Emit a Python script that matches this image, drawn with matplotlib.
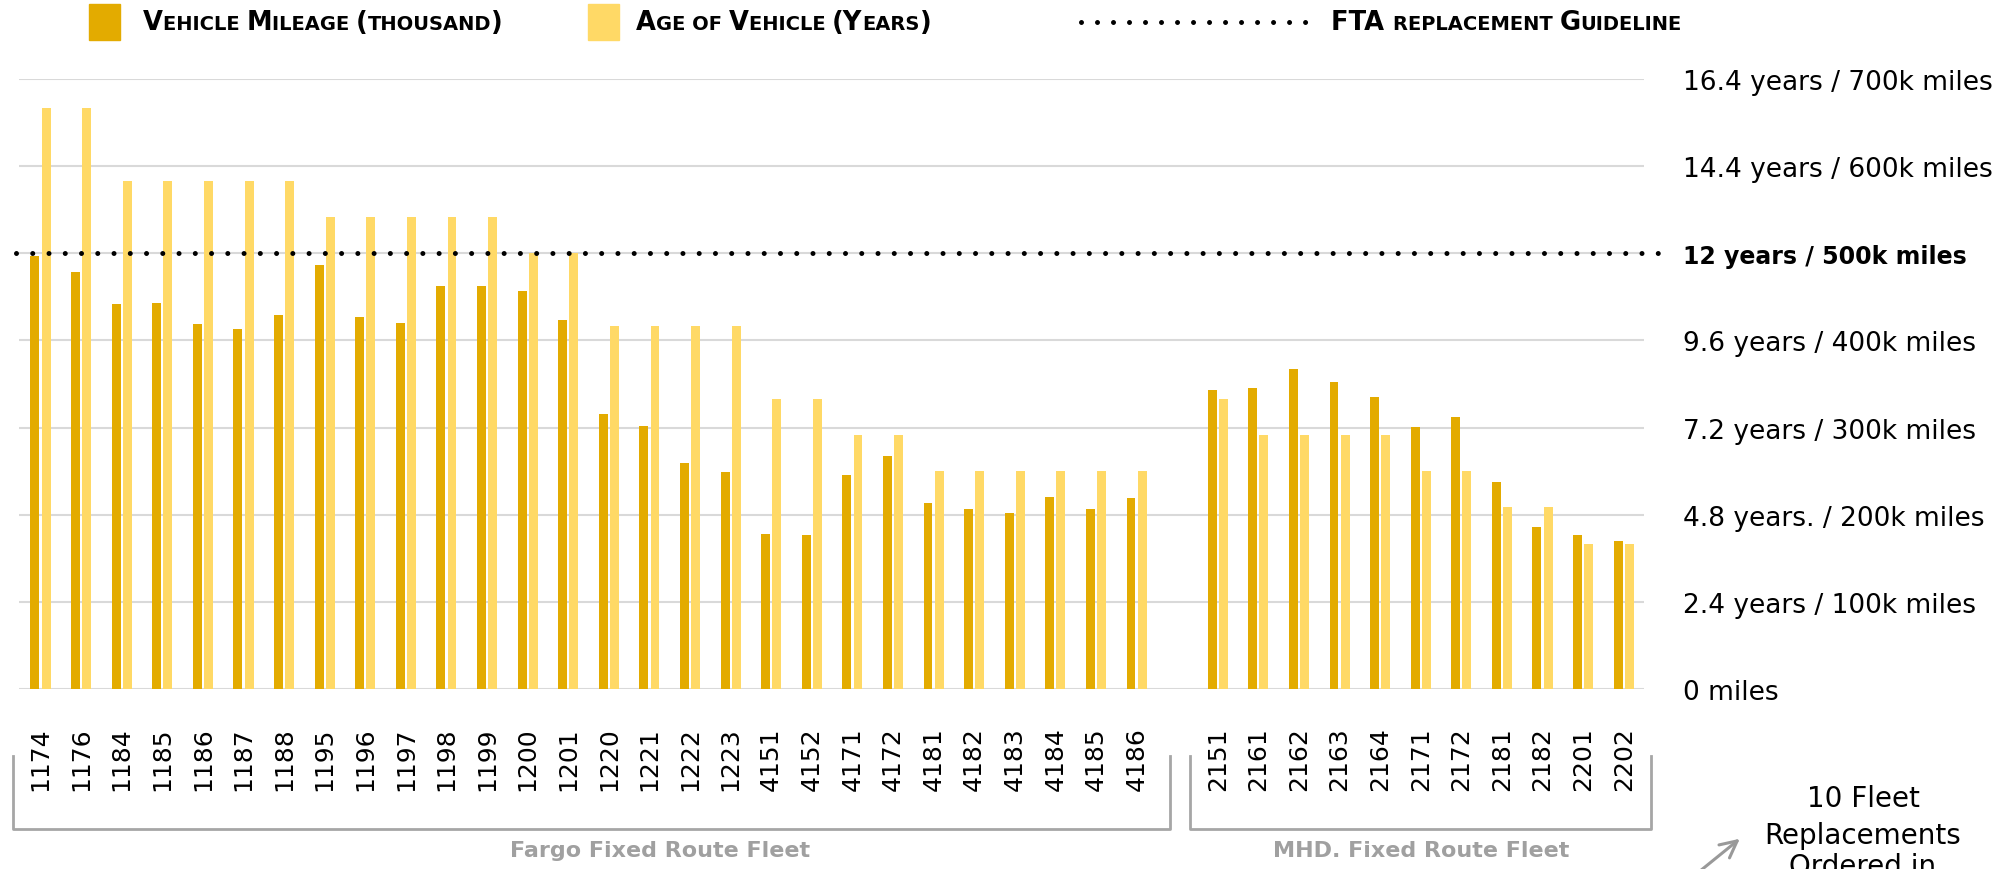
import matplotlib
matplotlib.use("Agg")
import matplotlib.pyplot as plt
from matplotlib.lines import Line2D
from matplotlib.patches import Rectangle
from matplotlib.offsetbox import TextArea, HPacker, AnnotationBbox

# Fahrzeugdaten (Meilen in Tausend, Alter in Jahren)
fargo_units   = ["1174", "1176", "1184", "1185", "1186", "1187", "1188", "1195", "1196", "1197",
                 "1198", "1199", "1200", "1201", "1220", "1221", "1222", "1223", "4151", "4152",
                 "4171", "4172", "4181", "4182", "4183", "4184", "4185", "4186"]
fargo_mileage = [497, 478, 442, 443, 419, 413, 429, 487, 427, 420,
                 463, 463, 457, 424, 316, 302, 259, 249, 178, 177,
                 246, 267, 213, 206, 202, 220, 206, 219]
fargo_age     = [16, 16, 14, 14, 14, 14, 14, 13, 13, 13,
                 13, 13, 12, 12, 10, 10, 10, 10, 8, 8,
                 7, 7, 6, 6, 6, 6, 6, 6]

mhd_units   = ["2151", "2161", "2162", "2163", "2164", "2171", "2172", "2181", "2182", "2201", "2202"]
mhd_mileage = [343, 345, 367, 352, 335, 301, 312, 238, 186, 177, 170]
mhd_age     = [8, 7, 7, 7, 7, 6, 6, 5, 5, 4, 4]

axis_values = [0, 100, 200, 300, 400, 500, 600, 700]
axis_labels = ["0 miles", "2.4 years / 100k miles", "4.8 years. / 200k miles",
               "7.2 years / 300k miles", "9.6 years / 400k miles", "12 years / 500k miles",
               "14.4 years / 600k miles", "16.4 years / 700k miles"]

GUIDE_MILES = 500
GUIDE_YEARS = 12
K_PER_YEAR  = GUIDE_MILES / GUIDE_YEARS   # Alter auf Meilenskala umrechnen

DARK  = "#E3AB00"
LIGHT = "#FFD966"
GREY  = "#A6A6A6"

W, H = 1994, 870
FONT = ["DejaVu Sans"]

fig = plt.figure(figsize=(W / 100, H / 100), dpi=100)


def fx(px):
    return px / W


def fy(py):
    return 1 - py / H


ax = fig.add_axes([fx(19), fy(690), fx(1644) - fx(19), fy(80) - fy(690)])

# Positionen: Lücke zwischen den beiden Flotten
pos_fargo = list(range(len(fargo_units)))
pos_mhd   = [len(fargo_units) + 1 + i for i in range(len(mhd_units))]
positions = pos_fargo + pos_mhd
units     = fargo_units + mhd_units
mileage   = fargo_mileage + mhd_mileage
age_k     = [a * K_PER_YEAR for a in fargo_age + mhd_age]

bw, off = 0.22, 0.137
ax.bar([p - off for p in positions], mileage, width=bw, color=DARK, linewidth=0)
ax.bar([p + off for p in positions], age_k, width=bw, color=LIGHT, linewidth=0)

ax.set_xlim(-0.53, positions[-1] + 0.5)
ax.set_ylim(0, 700)

ax.set_axisbelow(True)
ax.yaxis.grid(True, color="#D9D9D9", linewidth=1.5)
for s in ax.spines.values():
    s.set_visible(False)

ax.set_xticks(positions, units, rotation=90, fontsize=18, family=FONT)
ax.tick_params(axis="x", length=0, pad=27)

ax.yaxis.tick_right()
ax.set_yticks(axis_values, axis_labels, fontsize=19, family=FONT)
ax.tick_params(axis="y", length=0, pad=28)
guide_label = ax.get_yticklabels()[axis_values.index(GUIDE_MILES)]
guide_label.set_fontweight("bold")
guide_label.set_fontsize(17)

# FTA-Richtlinie als gepunktete Linie
x0 = (16 - 19) / (1644 - 19)
x1 = (1670 - 19) / (1644 - 19)
ax.axhline(GUIDE_MILES, xmin=x0, xmax=x1, color="black", linewidth=3.6,
           linestyle=(0, (0.001, 3.25)), dash_capstyle="round", clip_on=False)

# Klammern unter den Achsenbeschriftungen
def bracket(xa, xb, ytop=757, ybot=830):
    fig.add_artist(Line2D([fx(xa), fx(xa), fx(xb), fx(xb)],
                          [fy(ytop), fy(ybot), fy(ybot), fy(ytop)],
                          color=GREY, linewidth=2, transform=fig.transFigure))

bracket(13, 1170)
bracket(1190, 1651)
fig.text(fx(660), fy(851), "Fargo Fixed Route Fleet", ha="center", va="center",
         fontsize=16, fontweight="bold", color="#A0A0A0", family=FONT)
fig.text(fx(1421), fy(851), "MHD. Fixed Route Fleet", ha="center", va="center",
         fontsize=16, fontweight="bold", color="#A0A0A0", family=FONT)

# Legende in Kapitälchen
BIG, SMALL = 18.5, 14


def caps_text(parts, x, y):
    boxes = [TextArea(t, textprops=dict(fontsize=BIG if big else SMALL, fontweight="bold",
                                        family=FONT, color="black"))
             for t, big in parts]
    pack = HPacker(children=boxes, align="baseline", pad=0, sep=0)
    ab = AnnotationBbox(pack, (fx(x), fy(y)), xycoords="figure fraction",
                        box_alignment=(0, 0.5), frameon=False, pad=0)
    fig.add_artist(ab)


fig.add_artist(Rectangle((fx(89), fy(41)), fx(31), 36 / H, color=DARK, transform=fig.transFigure))
fig.add_artist(Rectangle((fx(588), fy(41)), fx(31), 36 / H, color=LIGHT, transform=fig.transFigure))

caps_text([("V", True), ("EHICLE ", False), ("M", True), ("ILEAGE ", False),
           ("(", True), ("THOUSAND", False), (")", True)], 143, 23)
caps_text([("A", True), ("GE OF ", False), ("V", True), ("EHICLE ", False),
           ("(Y", True), ("EARS", False), (")", True)], 636, 23)

fig.add_artist(Line2D([fx(1081), fx(1306)], [fy(23), fy(23)], color="black", linewidth=3.6,
                      linestyle=(0, (0.001, 3.2)), dash_capstyle="round",
                      transform=fig.transFigure))
caps_text([("FTA ", True), ("REPLACEMENT ", False), ("G", True), ("UIDELINE", False)], 1331, 23)

# Hinweis unten rechts (letzte Zeile läuft über den Rand)
note_lines = ["10 Fleet", "Replacements", "Ordered in"]
note_base  = [807, 844, 875]
for txt, yb in zip(note_lines, note_base):
    fig.text(fx(1863), fy(yb), txt, ha="center", va="baseline", fontsize=20, family=FONT)

ax.annotate("", xy=(fx(1742), fy(838)), xycoords="figure fraction",
            xytext=(fx(1684), fy(885)), textcoords="figure fraction",
            arrowprops=dict(arrowstyle="->", color="#999999", lw=2.2, mutation_scale=30),
            annotation_clip=False)

fig.savefig("out.png", dpi=100)
